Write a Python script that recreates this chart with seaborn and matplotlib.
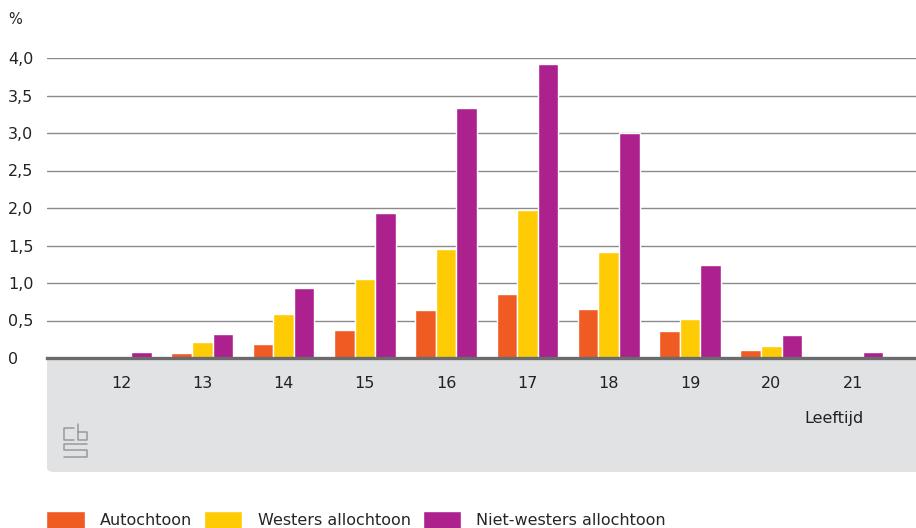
import pandas as pd
import seaborn as sns
import matplotlib.pyplot as plt
from matplotlib.patches import FancyBboxPatch
from matplotlib.lines import Line2D

# Leeftijd categories and percentages per group
leeftijd = ["12", "13", "14", "15", "16", "17", "18", "19", "20", "21"]
autochtoon = [0.02, 0.07, 0.19, 0.38, 0.64, 0.85, 0.66, 0.36, 0.11, 0.02]
westers = [0.03, 0.21, 0.59, 1.06, 1.45, 1.97, 1.41, 0.52, 0.16, 0.01]
niet_westers = [0.08, 0.32, 0.94, 1.93, 3.33, 3.92, 3.00, 1.24, 0.31, 0.08]
groepen = ["Autochtoon", "Westers allochtoon", "Niet-westers allochtoon"]
kleuren = ["#f05a23", "#ffcb05", "#ac218e"]
yticks = [0, 0.5, 1.0, 1.5, 2.0, 2.5, 3.0, 3.5, 4.0]
ytick_labels = ["0", "0,5", "1,0", "1,5", "2,0", "2,5", "3,0", "3,5", "4,0"]

df = pd.DataFrame({
    "leeftijd": leeftijd * 3,
    "groep": [groepen[0]] * 10 + [groepen[1]] * 10 + [groepen[2]] * 10,
    "waarde": autochtoon + westers + niet_westers,
})

sns.set_style("white")
plt.rcParams['font.family'] = ['Liberation Sans Narrow', 'DejaVu Sans']
plt.rcParams['font.size'] = 11.5

W, H = 916, 528
fig = plt.figure(figsize=(W / 100, H / 100), dpi=100)
ax = fig.add_axes([47 / W, (H - 358) / H, 869 / W, 300 / H])

# grey band under the x axis
band = FancyBboxPatch((47 / W, (H - 472) / H), 900 / W, 124 / H,
                      boxstyle="round,pad=0,rounding_size=0.008",
                      transform=fig.transFigure, facecolor="#e1e2e4",
                      edgecolor="none", zorder=-1)
fig.patches.append(band)

sns.barplot(data=df, x="leeftijd", y="waarde", hue="groep", hue_order=groepen,
            palette=kleuren, saturation=1, width=0.76, edgecolor="white",
            linewidth=1.0, ax=ax, zorder=3)

ax.set_xlim(-0.91, 9.78)
ax.set_ylim(0, 4.0)
ax.set_yticks(yticks)
ax.set_yticklabels(ytick_labels, ha="left")
ax.tick_params(axis="y", length=0, pad=28, labelcolor="#222222")
ax.tick_params(axis="x", length=0, pad=13, labelcolor="#222222")
ax.yaxis.grid(True, color="#8a8a8a", linewidth=1.0, zorder=0)
ax.set_axisbelow(True)
for s in ["top", "left", "right"]:
    ax.spines[s].set_visible(False)
ax.spines["bottom"].set_color("#6b6b6b")
ax.spines["bottom"].set_linewidth(2.4)
ax.spines["bottom"].set_zorder(5)
ax.set_xlabel("")
ax.set_ylabel("")

fig.text(8 / W, 1 - 20 / H, "%", fontsize=10.5, ha="left", va="center", color="#222222")
fig.text(864 / W, 1 - 418 / H, "Leeftijd", ha="right", va="center", color="#222222")

# simplified cbs logo
logo_c = "#9a9a9a"
def seg(xs, ys):
    fig.add_artist(Line2D([x / W for x in xs], [1 - y / H for y in ys],
                          color=logo_c, linewidth=1.1))
seg([74, 64, 64, 74], [428, 428, 440, 440])
seg([78, 78, 87, 87, 78], [424, 440, 440, 432, 432])
seg([87, 64, 64, 87, 87, 64], [444, 444, 450, 450, 457, 457])

# legend
handles, labels = ax.get_legend_handles_labels()
ax.get_legend().remove()
fig.legend(handles, labels, loc="center left", bbox_to_anchor=(40 / W, 1 - 520 / H),
           ncol=3, frameon=False, handlelength=2.4, handleheight=1.3,
           handletextpad=0.95, columnspacing=0.75, borderaxespad=0)

fig.savefig("out.png", dpi=100)
